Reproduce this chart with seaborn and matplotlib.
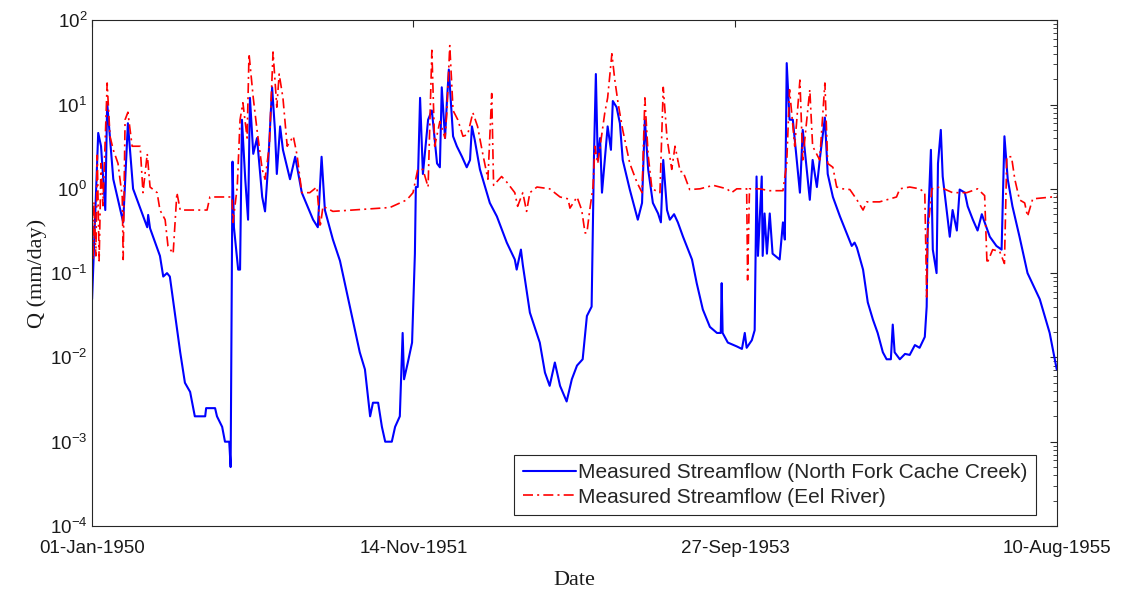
import numpy as np
import pandas as pd
import matplotlib
matplotlib.use("Agg")
import matplotlib.pyplot as plt
import matplotlib.dates as mdates
from matplotlib.ticker import LogLocator, NullFormatter
import seaborn as sns

# days since 01-Jan-1950 and flow (mm/day)
ncc_day = [0, 13, 19, 28, 32, 45, 66, 76, 87, 117, 119, 123, 144, 151, 159, 165, 187, 197, 208, 218,
           240, 242, 261, 265, 276, 282, 291, 294, 298, 301, 310, 314, 318, 325, 331, 335, 342, 350,
           361, 367, 373, 382, 388, 392, 399, 405, 420, 431, 445, 469, 479, 487, 494, 511, 526, 547,
           568, 579, 590, 596, 607, 615, 622, 636, 643, 653, 659, 662, 670, 679, 685, 687, 691, 696,
           702, 713, 721, 732, 738, 742, 749, 753, 757, 766, 774, 785, 795, 802, 806, 812, 823, 844,
           859, 880, 897, 901, 910, 914, 929, 950, 961, 971, 982, 993, 1007, 1018, 1029, 1041, 1050,
           1060, 1063, 1065, 1069, 1073, 1078, 1082, 1088, 1094, 1101, 1105, 1113, 1120, 1126, 1141,
           1158, 1167, 1173, 1180, 1190, 1201, 1207, 1212, 1220, 1226, 1235, 1243, 1254, 1273, 1283,
           1296, 1311, 1326, 1334, 1336, 1338, 1349, 1368, 1379, 1385, 1389, 1400, 1406, 1410, 1413,
           1421, 1423, 1427, 1432, 1438, 1444, 1459, 1466, 1470, 1474, 1480, 1487, 1502, 1508, 1523,
           1529, 1538, 1544, 1555, 1561, 1572, 1587, 1601, 1612, 1618, 1623, 1636, 1646, 1657, 1667,
           1678, 1686, 1695, 1699, 1703, 1714, 1725, 1735, 1746, 1756, 1767, 1771, 1773, 1780, 1784,
           1792, 1795, 1801, 1805, 1820, 1826, 1835, 1841, 1852, 1858, 1869, 1879, 1888, 1894, 1905,
           1919, 1930, 1936, 1943, 1953, 1968, 1985, 2011, 2032, 2047]
ncc_q = [0.049, 4.6, 3.2, 0.56, 10.5, 1.3, 0.4, 6.0, 1.0, 0.35, 0.49, 0.34, 0.16, 0.091, 0.10, 0.091,
         0.0115, 0.005, 0.0039, 0.002, 0.002, 0.0025, 0.0025, 0.002, 0.0015, 0.001, 0.001, 0.0005,
         2.1, 0.35, 0.11, 0.11, 6.6, 1.3, 0.43, 12, 2.6, 4.0, 0.8, 0.54, 1.7, 16, 5.0, 1.5, 5.5, 2.9,
         1.3, 2.4, 0.9, 0.43, 0.35, 2.4, 0.56, 0.25, 0.14, 0.04, 0.0115, 0.0072, 0.002, 0.0029,
         0.0029, 0.0015, 0.001, 0.001, 0.0015, 0.002, 0.0195, 0.0055, 0.0087, 0.015, 0.17, 1.05,
         1.05, 12, 1.5, 6.6, 8.5, 2.0, 1.8, 16, 4.0, 11, 26, 4.2, 3.2, 2.4, 1.8, 2.2, 5.5, 3.8, 1.7,
         0.68, 0.47, 0.23, 0.145, 0.11, 0.19, 0.125, 0.034, 0.015, 0.0066, 0.0046, 0.0087, 0.0046,
         0.003, 0.0055, 0.008, 0.0095, 0.031, 0.04, 0.43, 2.4, 23, 2.2, 4.0, 0.9, 2.2, 5.5, 2.9, 11,
         9.3, 6.0, 2.2, 0.98, 0.43, 0.68, 6.6, 1.7, 0.68, 0.51, 0.4, 2.2, 0.56, 0.43, 0.5, 0.4, 0.27,
         0.145, 0.076, 0.037, 0.023, 0.0195, 0.0195, 0.076, 0.0195, 0.015, 0.0135, 0.0126, 0.0195,
         0.013, 0.016, 0.021, 1.4, 0.16, 1.4, 0.16, 0.51, 0.17, 0.51, 0.17, 0.145, 0.4, 0.25, 31,
         6.6, 6.6, 0.9, 5.0, 0.74, 2.2, 1.05, 2.2, 7.0, 1.5, 0.8, 0.47, 0.3, 0.21, 0.23, 0.2, 0.11,
         0.045, 0.028, 0.0195, 0.0115, 0.0095, 0.0095, 0.0245, 0.0115, 0.0095, 0.011, 0.0107,
         0.014, 0.013, 0.0175, 0.04, 0.3, 2.9, 0.19, 0.10, 2.0, 5.0, 1.4, 0.27, 0.56, 0.32, 0.98,
         0.9, 0.62, 0.43, 0.32, 0.5, 0.4, 0.27, 0.21, 0.19, 4.2, 1.3, 0.62, 0.27, 0.10, 0.049,
         0.0195, 0.0072]

eel_day = [0, 2, 4, 8, 11, 15, 19, 23, 28, 32, 38, 45, 55, 64, 66, 70, 76, 85, 102, 108, 117, 123,
           138, 144, 155, 161, 172, 180, 187, 244, 250, 297, 299, 308, 314, 320, 329, 333, 342, 350,
           361, 367, 376, 384, 392, 397, 405, 414, 427, 435, 445, 462, 477, 484, 490, 511, 632, 668,
           681, 691, 702, 713, 721, 727, 738, 749, 753, 759, 766, 776, 787, 797, 808, 818, 829, 840,
           848, 852, 869, 880, 897, 903, 914, 922, 929, 944, 971, 993, 1010, 1014, 1029, 1039, 1046,
           1050, 1056, 1063, 1067, 1073, 1088, 1094, 1103, 1109, 1116, 1126, 1141, 1156, 1167, 1173,
           1180, 1188, 1205, 1212, 1220, 1230, 1237, 1248, 1254, 1268, 1290, 1318, 1347, 1357, 1368,
           1389, 1391, 1395, 1416, 1438, 1466, 1474, 1480, 1491, 1502, 1508, 1523, 1529, 1544, 1555,
           1561, 1572, 1580, 1593, 1608, 1623, 1636, 1644, 1671, 1707, 1714, 1735, 1756, 1767, 1771,
           1773, 1782, 1799, 1826, 1856, 1879, 1894, 1899, 1911, 1926, 1936, 1941, 1951, 1958, 1968,
           1979, 1985, 1996, 2017, 2047]
eel_q = [0.7, 0.145, 0.7, 0.16, 2.5, 0.14, 2.0, 0.63, 4.0, 18, 4.2, 2.9, 2.0, 0.8, 0.145, 6.6, 8.1,
         3.2, 3.2, 0.9, 2.6, 1.05, 0.9, 0.56, 0.43, 0.21, 0.17, 0.9, 0.56, 0.56, 0.8, 0.8, 0.4, 1.05,
         6.6, 10.5, 4.0, 40, 12, 5.0, 1.7, 1.3, 3.2, 42, 9.3, 23, 12, 3.2, 4.2, 2.5, 0.9, 0.9, 1.05,
         0.35, 0.62, 0.54, 0.6, 0.74, 0.9, 1.7, 1.7, 1.05, 44, 3.2, 6.3, 4.0, 8.5, 50, 8.5, 6.6, 4.2,
         4.4, 8.0, 5.5, 2.6, 1.3, 13.5, 1.1, 1.4, 1.2, 0.9, 0.62, 0.9, 0.54, 0.9, 1.05, 1.0, 0.8,
         0.76, 0.59, 0.8, 0.56, 0.3, 0.3, 0.56, 1.05, 3.2, 2.0, 8.0, 12, 40, 20, 10.5, 5.0, 2.0, 1.2,
         0.9, 12, 2.5, 1.0, 0.9, 16, 4.0, 1.7, 3.2, 1.6, 1.6, 0.98, 1.0, 1.1, 1.0, 0.9, 1.0, 1.0,
         0.083, 1.0, 1.0, 0.95, 0.95, 2.0, 15, 3.2, 19.5, 2.2, 15, 3.2, 2.2, 18, 2.0, 1.8, 1.05, 1.0,
         0.98, 0.74, 0.56, 0.7, 0.7, 0.8, 1.0, 1.05, 1.0, 0.9, 0.052, 0.3, 1.0, 1.05, 0.9, 0.9, 1.0,
         0.83, 0.13, 0.19, 0.18, 0.13, 2.4, 2.4, 1.3, 0.74, 0.68, 0.47, 0.76, 0.78, 0.81]

tick_dates = ["1950-01-01", "1951-11-14", "1953-09-27", "1955-08-10"]
series_names = ["Measured Streamflow (North Fork Cache Creek)", "Measured Streamflow (Eel River)"]

start = pd.Timestamp("1950-01-01")
ncc = pd.DataFrame({"date": start + pd.to_timedelta(ncc_day, unit="D"), "q": ncc_q})
eel = pd.DataFrame({"date": start + pd.to_timedelta(eel_day, unit="D"), "q": eel_q})

sns.set_style("white")
plt.rcParams["font.family"] = ["Liberation Sans", "DejaVu Sans"]
plt.rcParams["mathtext.fontset"] = "custom"
plt.rcParams["mathtext.rm"] = "Liberation Sans"
plt.rcParams["mathtext.it"] = "Liberation Sans"

fig = plt.figure(figsize=(11.23, 5.95), dpi=100)
ax = fig.add_axes([0.082, 0.116, 0.859, 0.850])

sns.lineplot(data=ncc, x="date", y="q", color="blue", lw=1.5, estimator=None,
             label=series_names[0], ax=ax)
sns.lineplot(data=eel, x="date", y="q", color="red", lw=1.2, estimator=None,
             linestyle="-.", dashes=False, label=series_names[1], ax=ax)
ax.lines[1].set_linestyle((0, (6, 2.5, 1.2, 2.5)))

ax.set_yscale("log")
ax.set_ylim(1e-4, 1e2)
ax.set_xlim(pd.Timestamp(tick_dates[0]), pd.Timestamp(tick_dates[-1]))
ax.set_xticks(pd.to_datetime(tick_dates))
ax.xaxis.set_major_formatter(mdates.DateFormatter("%d-%b-%Y"))
ax.xaxis.get_offset_text().set_visible(False)
ax.yaxis.set_major_locator(LogLocator(base=10, numticks=10))
ax.yaxis.set_minor_locator(LogLocator(base=10, subs=np.arange(2, 10), numticks=10))
ax.yaxis.set_minor_formatter(NullFormatter())

edge = "#262626"
for s in ax.spines.values():
    s.set_visible(True)
    s.set_color(edge)
    s.set_linewidth(0.8)
ax.tick_params(axis="both", which="both", direction="in", top=True, right=True,
               colors=edge, labelcolor="#1a1a1a", labelsize=13.5)
ax.tick_params(which="major", length=5)
ax.tick_params(which="minor", length=3)
ax.tick_params(axis="x", pad=10)

ax.set_xlabel("Date", family="Liberation Serif", fontsize=16, color="#1a1a1a", labelpad=10)
ax.set_ylabel("Q (mm/day)", family="Liberation Serif", fontsize=16, color="#1a1a1a", labelpad=2)

leg = ax.legend(loc="lower right", bbox_to_anchor=(0.978, 0.022), borderaxespad=0,
                fontsize=15, frameon=True, fancybox=False, edgecolor=edge, framealpha=1,
                handlelength=2.55, handletextpad=0.1, borderpad=0.4, labelspacing=0.25)
leg.get_frame().set_linewidth(0.8)

fig.savefig("out.png", dpi=100)
